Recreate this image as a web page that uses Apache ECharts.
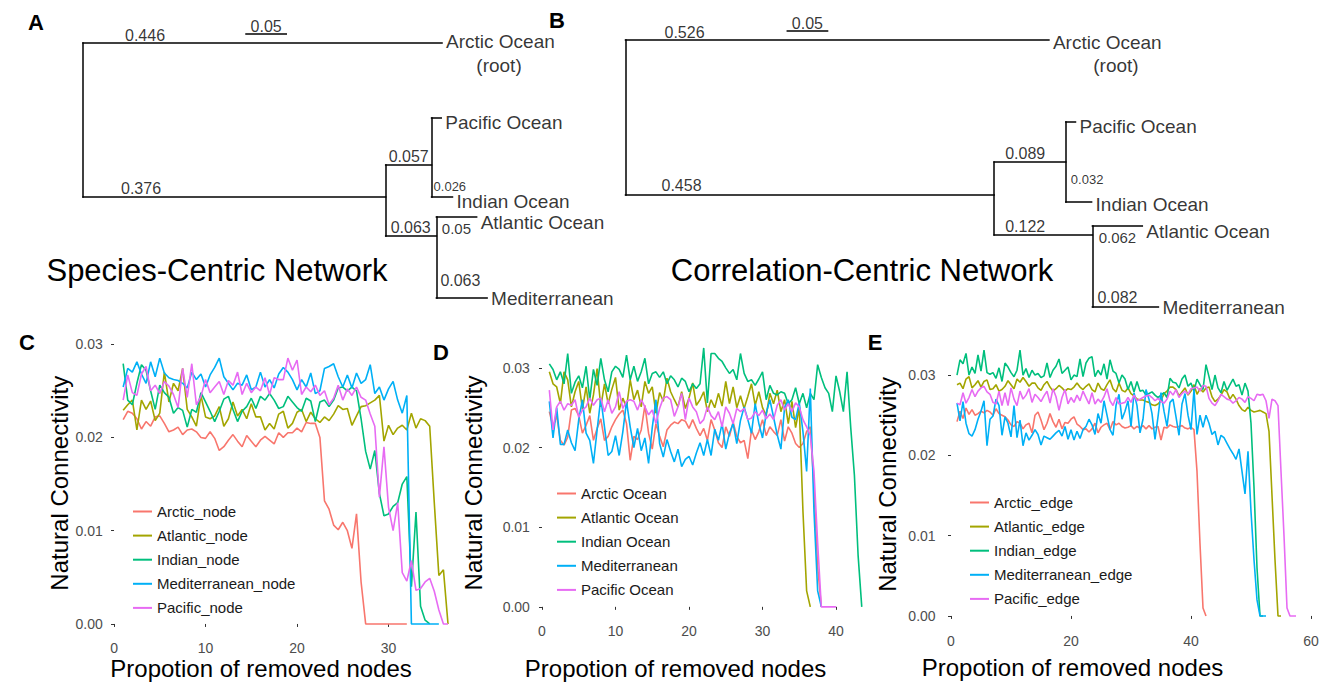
<!DOCTYPE html>
<html><head><meta charset="utf-8">
<script src="https://cdn.jsdelivr.net/npm/echarts@6/dist/echarts.min.js"></script>
<style>html,body{margin:0;padding:0;background:#fff}#c{width:1329px;height:682px}</style>
</head><body><div id="c"></div>
<script>
// ================= DATA =================
// proportion of removed nodes (shared x values)
const removed = [1,1.5,2,2.5,3,3.5,4,4.5,5,5.5,6,6.5,7,7.5,8,8.5,9,9.5,10,10.5,11,11.5,12,12.5,13,13.5,14,14.5,15,15.5,16,16.5,17,17.5,18,18.5,19,19.5,20,20.5,21,21.5,22,22.5,23,23.5,24,24.5,25,25.5,26,26.5,27,27.5,28,28.5,29,29.5,30,30.5,31,31.5,32,32.5,33,33.5,34,34.5,35,35.5,36,36.5,37,37.5,38,38.5,39,39.5,40,40.5,41,41.5,42,42.5,43,43.5,44,44.5,45,45.5,46,46.5,47,47.5,48,48.5,49,49.5,50,50.5,51,51.5,52,52.5,53,53.5,54,54.5,55,55.5,56,56.5,57,57.5];
// natural connectivity values in units of 1e-4
const UNIT = 1e-4;

const namesC = ['Arctic_node','Atlantic_node','Indian_node','Mediterranean_node','Pacific_node'];
const cArctic = [219,228,226,220,209,217,212,222,223,215, 206,208,211,203,208,209,206,200,199,206, 199,186,190,197,203,196,190,202,196,190, 197,201,197,193,205,200,205,205,210,206, 216,215,215,200,132,123,106,101,109,100, 81,118,45,0,0,0,0,0,0,0, 0,0,0];
const cAtlantic = [229,235,240,208,240,230,239,218,226,270, 238,258,250,274,230,222,212,245,222,220, 223,233,212,220,238,223,230,220,236,222, 222,208,215,209,225,228,210,215,227,230, 217,227,220,216,222,218,225,234,230,231, 213,223,233,234,237,240,245,196,213,203, 210,213,208,226,210,220,218,212,130,52, 58,0];
const cIndian = [279,240,235,258,278,272,250,230,256,248, 243,226,232,229,211,230,227,248,238,228, 217,228,241,244,230,217,228,233,242,231, 244,240,247,240,231,233,244,238,232,228, 242,239,217,238,240,233,240,253,254,250, 254,250,220,185,166,186,140,116,118,126, 130,150,158,40,120,19,4,0];
const cMed = [254,274,270,281,268,258,281,265,285,269, 264,262,261,258,253,270,262,268,254,267, 275,285,265,258,251,258,256,267,251,254, 270,254,262,253,268,275,270,262,251,262, 254,269,247,250,274,276,279,265,254,267, 253,269,258,262,278,247,254,240,252,260, 240,226,245,0,0,0,0,0,0,0];
const cPacific = [240,267,248,245,268,276,250,256,247,260, 255,246,232,274,243,279,235,244,262,248, 254,260,246,261,256,270,246,258,248,254, 250,264,246,264,262,262,285,272,283,246, 254,249,256,245,250,235,242,256,240,252, 245,254,243,240,225,212,136,190,125,100, 130,55,46,68,36,38,45,49,35,15, 0,0];

const namesD = ['Arctic Ocean','Atlantic Ocean','Indian Ocean','Mediterranean','Pacific Ocean'];
const dArctic = [245,226,240,209,203,213,247,249,240,218, 228,240,209,224,236,209,214,226,235,242, 247,230,184,214,210,222,253,218,198,230, 214,201,222,228,232,230,235,233,224,235, 224,215,224,209,235,222,206,200,226,214, 232,214,206,209,186,222,210,220,235,215, 226,220,215,235,208,226,218,205,200,205, 220,226,150,50,0];
const dAtlantic = [295,280,276,255,295,285,251,270,283,248, 276,243,266,299,251,280,255,273,288,247, 262,250,285,260,272,251,283,268,276,243, 269,258,287,270,260,251,270,249,262,281, 253,260,270,245,260,250,268,252,283,255, 276,250,265,249,264,280,253,270,250,240, 268,255,272,245,260,230,258,225,250,120, 20,0];
const dIndian = [305,298,285,295,280,318,268,282,290,275, 302,260,298,278,312,285,270,295,302,298, 288,316,285,302,283,295,312,280,293,295, 288,295,280,290,285,276,287,283,270,280, 274,280,325,256,318,318,312,308,300,293, 298,285,318,293,283,285,278,286,295,260, 278,268,266,270,268,255,260,275,255,268, 250,268,260,304,288,275,268,245,290,270, 245,295,225,165,65,0];
const dMed = [258,212,250,204,204,222,206,196,235,260, 218,209,180,222,262,226,190,195,215,190, 220,258,226,200,224,196,212,180,225,260, 205,188,210,195,182,198,176,185,189,178, 193,206,190,210,190,223,209,230,198,218, 230,205,234,251,235,218,255,230,212,243, 260,238,216,198,250,260,238,235,256,220, 170,274,120,20,0];
const dPacific = [272,222,251,258,247,255,253,260,238,247, 251,262,253,260,262,245,260,243,251,270, 249,258,260,258,247,260,251,241,247,230, 249,262,264,260,239,251,268,235,262,251, 245,230,235,251,240,235,245,226,251,243, 230,249,245,249,235,237,245,240,247,236, 242,235,253,260,247,255,245,256,251,235, 226,215,170,80,0,0,0,0,0];

const namesE = ['Arctic_edge','Atlantic_edge','Indian_edge','Mediterranean_edge','Pacific_edge'];
const eArctic = [242,255,246,259,251,257,250,252,255,253, 256,254,250,258,252,250,248,244,238,236, 242,240,233,238,240,228,250,254,244,232, 240,252,242,235,245,233,241,240,245,248, 239,236,232,233,229,233,240,228,235,238, 240,232,242,238,240,236,234,235,237,233, 236,234,237,233,237,233,235,236,219,235, 234,238,236,235,236,237,234,233,235,232, 180,90,10,0];
const eAtlantic = [288,290,283,295,298,284,288,293,285,292, 294,282,283,288,280,282,286,293,288,283, 295,291,297,292,286,290,290,284,281,288, 292,285,280,283,287,284,280,283,282,285, 290,285,282,286,289,282,279,290,283,281, 288,294,283,279,290,281,279,284,277,274, 270,269,269,267,266,263,262,264,268,277, 280,285,285,282,274,279,284,275,280,288, 276,283,279,284,285,273,267,270,275,282, 279,270,276,270,262,257,255,260,256,254, 255,256,254,252,230,150,70,0,0];
const eIndian = [300,319,314,327,300,310,302,325,305,331, 303,301,303,296,309,292,315,310,303,298, 306,331,300,308,297,306,300,302,297,299, 315,297,306,311,320,302,306,310,294,300, 298,320,298,315,321,323,298,306,300,314, 295,319,305,302,290,300,295,282,292,279, 292,280,281,275,277,279,275,272,275,278, 272,296,291,290,284,295,300,286,290,280, 295,288,282,313,298,282,300,284,278,292, 281,288,295,286,288,275,290,280,240,160, 60,0,0];
const eMed = [265,243,267,240,227,224,232,245,255,268, 212,245,249,270,262,225,248,240,223,262, 222,244,212,228,219,225,232,226,213,224, 222,220,224,228,231,224,236,220,232,219, 230,221,232,236,245,238,226,252,240,268, 250,232,225,262,276,245,255,268,236,278, 262,228,245,282,270,252,220,248,278,255, 236,266,270,248,225,264,277,250,232,282, 226,250,235,250,240,226,230,213,225,222, 215,208,202,195,208,180,152,205,130,70, 20,0,0,0];
const ePacific = [265,263,278,265,272,282,273,280,284,286, 279,276,266,264,280,262,278,262,284,270, 262,280,270,275,283,266,276,272,267,274, 280,265,283,273,256,272,282,264,272,266, 275,268,280,272,264,278,264,270,266,273, 283,268,262,272,264,265,266,272,266,275, 268,270,272,274,275,272,268,271,267,265, 270,280,275,282,272,277,280,276,283,284, 285,280,287,286,271,265,262,268,276,273, 270,269,265,268,272,270,266,273,271,268, 276,275,276,268,246,270,268,262,180,100, 10,0,0,0];

const xTicksC = [0,10,20,30];
const xTicksD = [0,10,20,30,40];
const xTicksE = [0,20,40,60];
const yTicks = [0,0.01,0.02,0.03];

// dendrograms: topology + branch lengths
const treeNodes  = ['root','Arctic Ocean','n1','n2','Pacific Ocean','Indian Ocean','n3','Atlantic Ocean','Mediterranean'];
const treeParent = [-1,0,0,2,3,3,2,6,6];
const branchA = [0,0.446,0.376,0.057,0.012,0.026,0.063,0.05,0.063];
const branchB = [0,0.526,0.458,0.089,0.012,0.032,0.122,0.062,0.082];
const labelledA = [false,true,true,true,false,true,true,true,true];
const labelledB = [false,true,true,true,false,true,true,true,true];
const scaleBar = 0.05;

// ================= LAYOUT / STYLE =================
const FONT = '"Liberation Sans", Arial, Helvetica, sans-serif';
const COLORS = ['#F8766D','#A3A500','#00BF7D','#00B0F6','#E76BF3'];
const TREE_PX = 805; // px per branch-length unit
const TREE_MAX = 0.8;
const TREES = [
  {branch:branchA, shown:labelledA, left:83,
   rows:[120,43,197,165,118,197,236,217,298],
   lab:[null,[62,-8,16,'center'],[58,-9,16,'center'],[23,-9,16,'center'],null,[2,-11,13,'left'],[25,-9,16,'center'],[20,11,15,'center'],[24,-18,16,'center']],
   leafDy:{1:-2,4:4,5:4,7:5,8:0}, root:[57,22], bar:[0.2025,34]},
  {branch:branchB, shown:labelledB, left:625.5,
   rows:[118,40,195,162,122,202,235,226,307],
   lab:[null,[59,-8,16,'center'],[56,-10,16,'center'],[31,-9,16,'center'],null,[5,-23,13,'left'],[31,-9,16,'center'],[25,11,15,'center'],[25,-10,16,'center']],
   leafDy:{1:2,4:4,5:2,7:5,8:0}, root:[67,25], bar:[0.201,31]}
];
const PANELS = [
  {names:namesC, data:[cArctic,cAtlantic,cIndian,cMed,cPacific], xt:xTicksC,
   grid:{left:106.7,top:343.2,width:358.7,height:294.1}, xr:[-0.8,38.4], yr:[-0.00143,0.0301],
   legend:{left:133,top:504}, yGap:35, xGap:19, xPad:[0,50,0,0], yPad:[0,0,0,14]},
  {names:namesD, data:[dArctic,dAtlantic,dIndian,dMed,dPacific], xt:xTicksD,
   grid:{left:533.9,top:332,width:343.3,height:288}, xr:[-1.1,45.6], yr:[-0.00165,0.0345],
   legend:{left:557,top:486}, yGap:48, xGap:36, xPad:[0,60,0,0], yPad:[0,14,0,0]},
  {names:namesE, data:[eArctic,eAtlantic,eIndian,eMed,ePacific], xt:xTicksE,
   grid:{left:939.6,top:333.3,width:373.8,height:296.3}, xr:[-1.9,60.4], yr:[-0.0017,0.0352],
   legend:{left:970,top:495}, yGap:40, xGap:26, xPad:[0,108,0,0], yPad:[0,6,0,0]}
];

// ================= BUILD =================
const grids=[], xAxes=[], yAxes=[], series=[], legends=[];

function nodeX(branch,i){ let s=0; while(i>0){ s+=branch[i]; i=treeParent[i]; } return s; }

TREES.forEach((t,k)=>{
  grids.push({left:t.left, top:0, width:TREE_MAX*TREE_PX, height:682, containLabel:false, outerBoundsMode:'none'});
  xAxes.push({gridIndex:k, type:'value', min:0, max:TREE_MAX, show:false});
  yAxes.push({gridIndex:k, type:'value', min:0, max:682, inverse:true, show:false});
  const segs=[];
  for(let i=1;i<treeNodes.length;i++){
    const p=treeParent[i];
    segs.push({coords:[[nodeX(t.branch,p),t.rows[i]],[nodeX(t.branch,i),t.rows[i]]]});
  }
  for(let i=0;i<treeNodes.length;i++){
    const ch=[]; treeParent.forEach((p,j)=>{ if(p===i) ch.push(t.rows[j]); });
    if(ch.length) segs.push({coords:[[nodeX(t.branch,i),Math.min(...ch)],[nodeX(t.branch,i),Math.max(...ch)]]});
  }
  segs.push({coords:[[t.bar[0],t.bar[1]],[t.bar[0]+scaleBar,t.bar[1]]]});
  series.push({type:'lines', coordinateSystem:'cartesian2d', xAxisIndex:k, yAxisIndex:k, silent:true,
    lineStyle:{color:'#000', width:1.5, opacity:1, curveness:0, cap:'square'}, data:segs, z:2});
  const labs=[];
  const base={show:true, position:'inside', color:'#000', fontFamily:FONT, verticalAlign:'middle'};
  for(let i=1;i<treeNodes.length;i++){
    const p=treeParent[i];
    if(t.shown[i] && t.lab[i]){
      const [dx,dy,fs,al]=t.lab[i];
      labs.push({value:[nodeX(t.branch,p),t.rows[i]], label:Object.assign({},base,{formatter:String(t.branch[i]), offset:[dx,dy], fontSize:fs, align:al})});
    }
    if(t.leafDy[i]!==undefined){
      labs.push({value:[nodeX(t.branch,i),t.rows[i]], label:Object.assign({},base,{formatter:treeNodes[i], offset:[4,t.leafDy[i]], fontSize:19, align:'left'})});
    }
  }
  labs.push({value:[nodeX(t.branch,1),t.rows[1]], label:Object.assign({},base,{formatter:'(root)', offset:t.root, fontSize:19, align:'center'})});
  labs.push({value:[t.bar[0]+scaleBar/2,t.bar[1]], label:Object.assign({},base,{formatter:String(scaleBar), offset:[0,-8], fontSize:16, align:'center'})});
  series.push({type:'scatter', xAxisIndex:k, yAxisIndex:k, symbolSize:0, silent:true, data:labs, z:3});
});

PANELS.forEach((p,k)=>{
  const gi=k+2;
  grids.push(Object.assign({containLabel:false, outerBoundsMode:'none'},p.grid));
  xAxes.push({gridIndex:gi, type:'value', min:p.xr[0], max:p.xr[1],
    axisLine:{show:false}, splitLine:{show:false},
    axisTick:{show:true, customValues:p.xt, length:3, lineStyle:{color:'#333', width:1}},
    axisLabel:{customValues:p.xt, fontSize:14, color:'#4d4d4d', margin:4, fontFamily:FONT},
    name:'Propotion of removed nodes', nameLocation:'middle', nameGap:p.xGap, nameMoveOverlap:false,
    nameTextStyle:{fontSize:24, color:'#000', fontFamily:FONT, padding:p.xPad}});
  yAxes.push({gridIndex:gi, type:'value', min:p.yr[0], max:p.yr[1],
    axisLine:{show:false}, splitLine:{show:false},
    axisTick:{show:true, customValues:yTicks, length:3, lineStyle:{color:'#333', width:1}},
    axisLabel:{customValues:yTicks, fontSize:14, color:'#4d4d4d', margin:4, fontFamily:FONT, formatter:v=>v.toFixed(2)},
    name:'Natural Connectivity', nameLocation:'middle', nameGap:p.yGap, nameMoveOverlap:false,
    nameTextStyle:{fontSize:24, color:'#000', fontFamily:FONT, padding:p.yPad}});
  p.names.forEach((nm,s)=>{
    const vals=p.data[s];
    const pts=vals.map((v,i)=>[removed[i], v*UNIT]);
    series.push({type:'line', name:nm, xAxisIndex:gi, yAxisIndex:gi, data:pts,
      symbol:'none', showSymbol:false, smooth:false,
      lineStyle:{color:COLORS[s], width:1.6}, itemStyle:{color:COLORS[s]}, z:2});
  });
  legends.push({data:p.names, orient:'vertical', left:p.legend.left, top:p.legend.top, padding:0,
    icon:'rect', itemWidth:19, itemHeight:2, itemGap:9.1, selectedMode:false,
    textStyle:{fontSize:15, color:'#1a1a1a', fontFamily:FONT, lineHeight:14}});
});

const txt=(x,y,text,size,weight)=>({type:'text', x, y, silent:true,
  style:{text, fontSize:size, fontWeight:weight||'normal', fontFamily:FONT, fill:'#000', align:'center', verticalAlign:'middle'}});

const option={
  animation:false, backgroundColor:'#fff', textStyle:{fontFamily:FONT},
  grid:grids, xAxis:xAxes, yAxis:yAxes, legend:legends, series,
  graphic:[
    txt(36,22,'A',22,'bold'), txt(557,20,'B',22,'bold'),
    txt(27,342,'C',22,'bold'), txt(441,352,'D',22,'bold'), txt(875,342,'E',22,'bold'),
    txt(217,270,'Species-Centric Network',31), txt(862,270,'Correlation-Centric Network',31)
  ]
};
const chart=echarts.init(document.getElementById('c'),null,{renderer:'svg'});
chart.setOption(option);
</script></body></html>
